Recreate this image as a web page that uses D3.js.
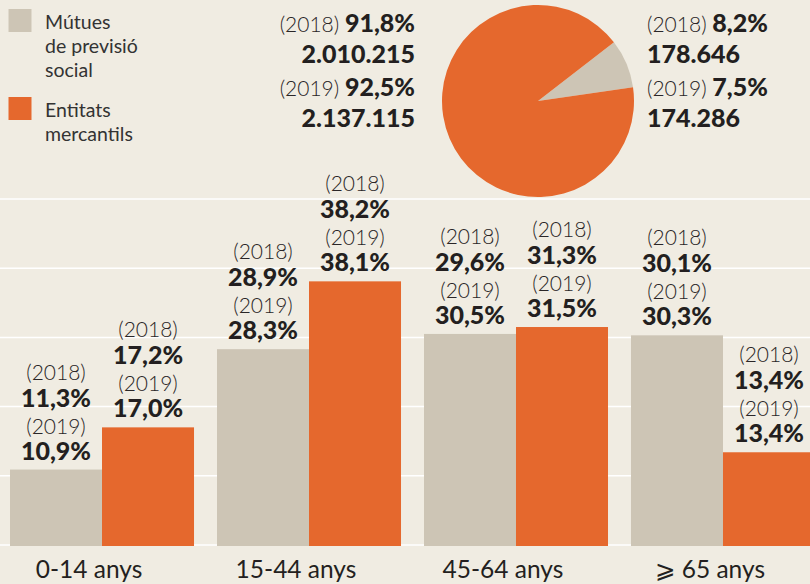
<!DOCTYPE html>
<meta charset="utf-8">
<style>
body { margin: 0; background: #f0ece2; }
svg { display: block; }
text { font-family: Lato, "DejaVu Sans", sans-serif; fill: #231f20; }
.grid line { stroke: #fff; stroke-width: 1.5px; }
.yr { font-size: 21px; font-weight: 300; fill: #2a2627; }
.val { font-size: 25px; font-weight: 900; }
.legend text { font-size: 19.5px; font-weight: 400; fill: #333; }
.axis text { font-size: 24.5px; font-weight: 400; }
</style>
<svg width="810" height="584"></svg>
<script src="https://d3js.org/d3.v7.min.js"></script>
<script>

var svg = d3.select("svg"),
    width = +svg.attr("width"),
    height = +svg.attr("height");

var groups = ["0-14 anys", "15-44 anys", "45-64 anys", "\u2A7E 65 anys"];
var series = ["Mútues de previsió social", "Entitats mercantils"];
var mutues2018 = [11.3, 28.9, 29.6, 30.1];
var mutues2019 = [10.9, 28.3, 30.5, 30.3];
var mercantils2018 = [17.2, 38.2, 31.3, 13.4];
var mercantils2019 = [17.0, 38.1, 31.5, 13.4];
var yTicks = [0, 10, 20, 30, 40, 50];

// pie: 2018 shares and totals
var pieShare2018 = [8.2, 91.8];   // mútues, mercantils
var pieShare2019 = [7.5, 92.5];
var pieTotal2018 = ["178.646", "2.010.215"];
var pieTotal2019 = ["174.286", "2.137.115"];

var color = d3.scaleOrdinal().domain(series).range(["#cdc5b5", "#e5682d"]);

function fmt(v) { return v.toFixed(1).replace(".", ",") + "%"; }

var y = d3.scaleLinear().domain([0, 50]).range([545, 199]);
var x0 = d3.scaleBand().domain(groups).range([10, 815]).paddingInner(0.111).paddingOuter(0);
var x1 = d3.scaleBand().domain(series).range([0, x0.bandwidth()]);

// gridlines
svg.append("g")
    .attr("class", "grid")
  .selectAll("line")
  .data(yTicks)
  .enter().append("line")
    .attr("x1", 0)
    .attr("x2", width)
    .attr("y1", function(d) { return y(d); })
    .attr("y2", function(d) { return y(d); });

var rows = groups.map(function(g, i) {
  return [
    { g: g, s: series[0], v18: mutues2018[i], v19: mutues2019[i] },
    { g: g, s: series[1], v18: mercantils2018[i], v19: mercantils2019[i] }
  ];
});
var flat = d3.merge(rows);

svg.append("g")
  .selectAll("rect")
  .data(flat)
  .enter().append("rect")
    .attr("x", function(d) { return x0(d.g) + x1(d.s); })
    .attr("y", function(d) { return y(d.v19); })
    .attr("width", x1.bandwidth())
    .attr("height", function(d) { return y(0) - y(d.v19) + 1; })
    .attr("fill", function(d) { return color(d.s); });

// bar labels
var lab = svg.append("g")
  .selectAll("g")
  .data(flat)
  .enter().append("g")
    .attr("transform", function(d) {
      return "translate(" + (x0(d.g) + x1(d.s) + x1.bandwidth() / 2) + "," + y(d.v19) + ")";
    })
    .attr("text-anchor", "middle");

lab.append("text").attr("class", "yr").attr("y", -90).text("(2018)");
lab.append("text").attr("class", "val").attr("y", -63).text(function(d) { return fmt(d.v18); });
lab.append("text").attr("class", "yr").attr("y", -36).text("(2019)");
lab.append("text").attr("class", "val").attr("y", -10).text(function(d) { return fmt(d.v19); });

// axis labels
svg.append("g")
    .attr("class", "axis")
  .selectAll("text")
  .data(groups)
  .enter().append("text")
    .attr("x", function(d) { return x0(d) + x0.bandwidth() / 2 - 13; })
    .attr("y", 578)
    .attr("text-anchor", "middle")
    .text(function(d) { return d; });

// legend
var legend = svg.append("g").attr("class", "legend");
var legendLines = [["Mútues", "de previsió", "social"], ["Entitats", "mercantils"]];
var legendTop = [9, 97];
legendLines.forEach(function(lines, i) {
  legend.append("rect")
      .attr("x", 8.5).attr("y", legendTop[i])
      .attr("width", 23).attr("height", 23)
      .attr("fill", color(series[i]));
  legend.append("g").selectAll("text")
    .data(lines)
    .enter().append("text")
      .attr("x", 45)
      .attr("y", function(d, j) { return legendTop[i] + 20 + j * 23.8; })
      .text(function(d) { return d; });
});

// pie
var cx = 538, cy = 101, r = 96;
var startA = 52.3 * Math.PI / 180;
var pie = d3.pie().sort(null).startAngle(startA).endAngle(startA + 2 * Math.PI);
var arc = d3.arc().innerRadius(0).outerRadius(r);

svg.append("g")
    .attr("transform", "translate(" + cx + "," + cy + ")")
  .selectAll("path")
  .data(pie(pieShare2018))
  .enter().append("path")
    .attr("d", arc)
    .attr("fill", function(d, i) { return color(series[i]); });

var pieLabels = [
  { x: 415, anchor: "end", i: 1 },
  { x: 647, anchor: "start", i: 0 }
];
pieLabels.forEach(function(p) {
  var g = svg.append("g").attr("text-anchor", p.anchor);
  var t1 = g.append("text").attr("x", p.x).attr("y", 32);
  t1.append("tspan").attr("class", "yr").text("(2018) ");
  t1.append("tspan").attr("class", "val").text(fmt(pieShare2018[p.i]));
  g.append("text").attr("class", "val").attr("x", p.x).attr("y", 63).text(pieTotal2018[p.i]);
  var t2 = g.append("text").attr("x", p.x).attr("y", 96);
  t2.append("tspan").attr("class", "yr").text("(2019) ");
  t2.append("tspan").attr("class", "val").text(fmt(pieShare2019[p.i]));
  g.append("text").attr("class", "val").attr("x", p.x).attr("y", 127).text(pieTotal2019[p.i]);
});

</script>
